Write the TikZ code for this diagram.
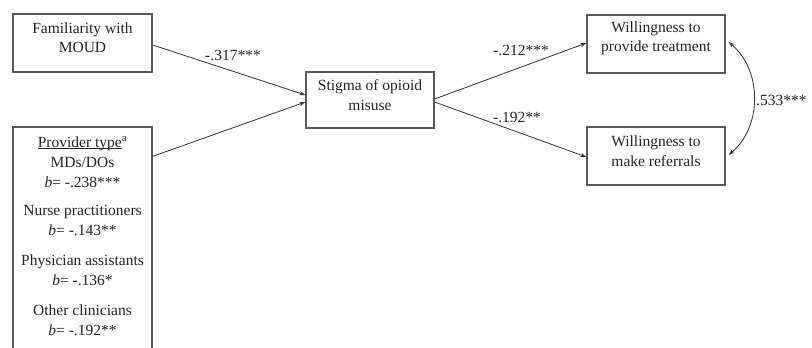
\documentclass[tikz,border=0pt]{standalone}
\usepackage{fontspec}
\setmainfont{Liberation Serif}
\usetikzlibrary{arrows.meta}
\definecolor{boxgray}{HTML}{5A5A5A}
\definecolor{linegray}{HTML}{333333}
\begin{document}
\begin{tikzpicture}[x=1pt,y=-1pt,
  box/.style={draw=boxgray,line width=1.2pt,inner sep=0pt,minimum width=#1},
  box/.default=139pt,
  txt/.style={font=\fontsize{15.5}{19.5}\selectfont,align=center,inner sep=0pt,text=black!85},
  coef/.style={font=\fontsize{15.5}{19.5}\selectfont,inner sep=0pt,text=black!85},
  path/.style={draw=linegray,line width=0.8pt,-{Stealth[length=6pt,width=4pt]}},
  cov/.style={draw=linegray,line width=0.8pt,{Stealth[length=6pt,width=4pt]}-{Stealth[length=6pt,width=4pt]}}
]
\useasboundingbox (0,0) rectangle (812,348);
\fill[white] (0,0) rectangle (812,348);

% boxes
\node[box=139pt,minimum height=58pt] (fam) at (82.5,43) {};
\node[txt] (famt) at ([yshift=5.5pt]fam.center) {Familiarity with\\MOUD};

\node[box=139pt,minimum height=233pt] (prov) at (82.5,243.5) {};
\node[txt,anchor=base] (p1) at (82.5,147) {\underline{\smash{Provider type}}\textsuperscript{a}};
\node[txt,anchor=base] (p2) at (82.5,167) {MDs/DOs};
\node[txt,anchor=base] (p3) at (82.5,187) {\textit{b}= -.238***};
\node[txt,anchor=base] (p4) at (82.5,215) {Nurse practitioners};
\node[txt,anchor=base] (p5) at (82.5,235) {\textit{b}= -.143**};
\node[txt,anchor=base] (p6) at (82.5,265) {Physician assistants};
\node[txt,anchor=base] (p7) at (82.5,285) {\textit{b}= -.136*};
\node[txt,anchor=base] (p8) at (82.5,315) {Other clinicians};
\node[txt,anchor=base] (p9) at (82.5,335) {\textit{b}= -.192**};

\node[box=128pt,minimum height=56pt] (stig) at (370,100) {};
\node[txt] (stigt) at ([yshift=5pt]stig.center) {Stigma of opioid\\misuse};

\node[box=138pt,minimum height=58pt] (wt) at (656,44) {};
\node[txt] (wtt) at ([yshift=5.5pt]wt.center) {Willingness to\\provide treatment};

\node[box=138pt,minimum height=58pt] (wr) at (656,156) {};
\node[txt] (wrt) at ([yshift=5pt]wr.center) {Willingness to\\make referrals};

% paths
\draw[path] ([yshift=-2pt]fam.east) -- ([yshift=5pt]stig.west);
\draw[path] ([yshift=-30pt]prov.north east) -- ([yshift=-2pt]stig.west);
\draw[path] ([yshift=1pt]stig.east) -- ([yshift=1pt]wt.west);
\draw[path] ([yshift=-2pt]stig.east) -- ([yshift=-1pt]wr.west);
\draw[cov] ([xshift=3pt,yshift=2pt]wt.east) to[bend left=50] ([xshift=3pt,yshift=1pt]wr.east);

% coefficients
\node[coef] (c1) at (233,55) {-.317***};
\node[coef] (c2) at (521,50) {-.212***};
\node[coef] (c3) at (517,117) {-.192**};
\node[coef,anchor=west] (c4) at (756,100) {.533***};
\end{tikzpicture}
\end{document}
